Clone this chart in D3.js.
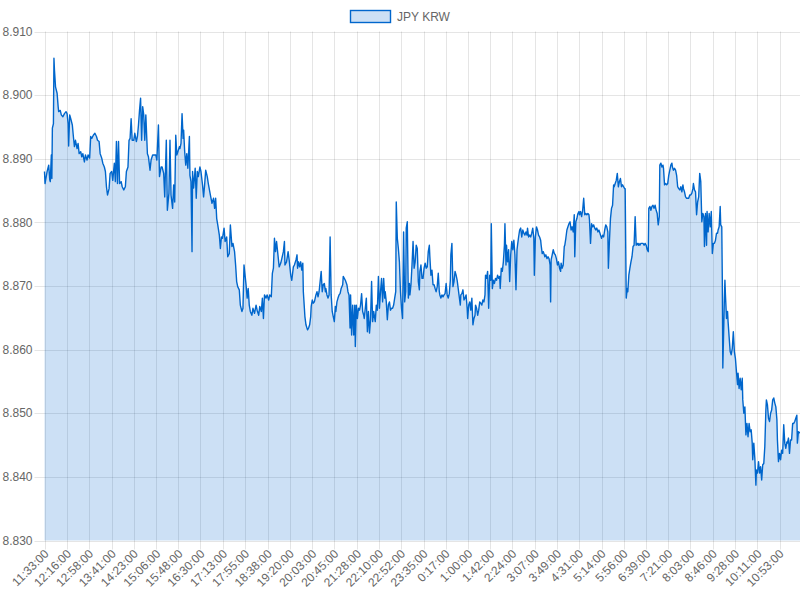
<!DOCTYPE html>
<html>
<head>
<meta charset="utf-8">
<script src="https://cdn.jsdelivr.net/npm/d3@7"></script>
<style>
    body { margin: 0; background: #fff; }
    text { font-family: "Liberation Sans", Arial, Helvetica, sans-serif; }
</style>
</head>
<body>
<svg id="chart" width="800" height="600"></svg>
<script>
//图例名称
const seriesName = "JPY KRW";

//横轴刻度标签
const tickLabels = ["11:33:00", "12:16:00", "12:58:00", "13:41:00", "14:23:00", "15:06:00", "15:48:00",
    "16:30:00", "17:13:00", "17:55:00", "18:38:00", "19:20:00", "20:03:00", "20:45:00", "21:28:00",
    "22:10:00", "22:52:00", "23:35:00", "0:17:00", "1:00:00", "1:42:00", "2:24:00", "3:07:00",
    "3:49:00", "4:31:00", "5:14:00", "5:56:00", "6:39:00", "7:21:00", "8:03:00", "8:46:00",
    "9:28:00", "10:11:00", "10:53:00"];

//第一个数据点的时间，数据按分钟数偏移记录 [分钟, 汇率]
const startTime = "11:33:00";
const totalMinutes = 1440;

const ratesAfternoon = [[0,8.8880],[1,8.8861],[5,8.8880],[8,8.8890],[10,8.8867],[11,8.8864],[13,8.8906],[14,8.8869],[15,8.8948],[17,8.8955],[18,8.9058],[19,8.9039],[21,8.9013],[24,8.9003],[26,8.8982],[27,8.8974],[30,8.8976],[32,8.8969],[35,8.8966],[38,8.8971],[41,8.8974],[43,8.8971],[45,8.8955],[46,8.8920],[48,8.8969],[50,8.8963],[53,8.8953],[55,8.8935],[57,8.8919],[59,8.8929],[62,8.8916],[64,8.8924],[66,8.8908],[69,8.8911],[71,8.8903],[73,8.8908],[76,8.8895],[78,8.8906],[81,8.8898],[83,8.8906],[86,8.8901],[88,8.8935],[90,8.8932],[93,8.8937],[96,8.8940],[99,8.8935],[101,8.8929],[104,8.8927],[106,8.8908],[109,8.8901],[111,8.8893],[114,8.8887],[116,8.8880],[118,8.8856],[120,8.8843],[123,8.8853],[125,8.8877],[128,8.8880],[130,8.8866],[133,8.8893],[135,8.8864],[137,8.8927],[139,8.8861],[141,8.8927],[143,8.8861],[146,8.8864],[148,8.8856],[151,8.8851],[154,8.8856],[156,8.8880],[159,8.8887],[161,8.8929],[163,8.8932],[165,8.8963],[167,8.8929],[170,8.8929],[172,8.8940],[175,8.8927],[177,8.8935],[179,8.8953],[181,8.8976],[183,8.8995],[185,8.8929],[187,8.8982],[189,8.8969],[191,8.8929],[193,8.8969],[196,8.8908],[198,8.8903],[201,8.8882],[203,8.8898],[206,8.8906],[208,8.8906],[212,8.8906],[214,8.8898],[217,8.8953],[219,8.8872],[222,8.8887],[224,8.8887],[227,8.8877],[229,8.8840],[232,8.8929],[234,8.8819],[237,8.8846],[239,8.8929],
    [241,8.8843],[244,8.8822],[246,8.8859],[248,8.8832],[250,8.8937],[252,8.8906],[254,8.8911],[257,8.8919],[258,8.8916],[260,8.8924],[262,8.8971],[264,8.8932],[265,8.8945],[267,8.8911],[269,8.8890],[271,8.8908],[273,8.8885],[274,8.8901],[276,8.8935],[277,8.8874],[279,8.8864],[281,8.8754],[282,8.8880],[284,8.8854],[287,8.8885],[289,8.8838],[291,8.8880],[293,8.8872],[296,8.8887],[298,8.8880],[301,8.8859],[303,8.8840],[305,8.8859],[307,8.8882],[310,8.8872],[312,8.8861],[316,8.8843],[319,8.8830],[322,8.8838],[324,8.8822],[326,8.8838],[328,8.8806],[330,8.8796],[333,8.8780],[335,8.8759],[337,8.8777],[339,8.8775],[342,8.8791],[344,8.8770],[347,8.8777],[349,8.8746],[352,8.8751],[354,8.8796],[357,8.8762],[359,8.8767],[362,8.8754],[364,8.8733],[366,8.8707],[368,8.8699],[371,8.8694],[373,8.8670],[376,8.8660],[378,8.8665],[380,8.8733],[382,8.8717],[384,8.8701],[386,8.8681],[388,8.8696],[390,8.8670],[392,8.8660],[395,8.8654],[397,8.8665],[400,8.8657],[403,8.8670],[405,8.8662],[408,8.8654],[410,8.8668],[413,8.8660],[415,8.8681],[417,8.8649],[419,8.8686],[422,8.8681],[424,8.8686],[427,8.8678],[429,8.8686],[432,8.8683],[434,8.8720],[436,8.8728],[438,8.8775],[440,8.8754],[442,8.8770],[444,8.8754],[447,8.8730],[450,8.8736],[452,8.8743],[455,8.8754],[457,8.8770],[458,8.8733],[461,8.8738],[464,8.8754],[466,8.8741],[469,8.8717],[471,8.8709],[474,8.8730],[476,8.8733]];

const ratesEvening = [[479,8.8741],[481,8.8749],[482,8.8728],[484,8.8738],[486,8.8730],[488,8.8738],[490,8.8725],[492,8.8736],[493,8.8691],[495,8.8665],[496,8.8652],[498,8.8639],[501,8.8631],[503,8.8634],[505,8.8639],[507,8.8652],[508,8.8668],[510,8.8678],[512,8.8673],[514,8.8675],[517,8.8686],[519,8.8691],[521,8.8683],[523,8.8691],[525,8.8707],[527,8.8723],[529,8.8691],[531,8.8702],[533,8.8704],[535,8.8691],[536,8.8696],[538,8.8686],[540,8.8681],[542,8.8686],[544,8.8777],[546,8.8686],[548,8.8660],[550,8.8652],[552,8.8644],[554,8.8668],[555,8.8660],[557,8.8675],[559,8.8681],[561,8.8686],[563,8.8688],[565,8.8696],[568,8.8702],[569,8.8715],[571,8.8712],[573,8.8709],[576,8.8702],[578,8.8691],[580,8.8686],[582,8.8634],[583,8.8686],[585,8.8623],[587,8.8670],[589,8.8623],[591,8.8670],[592,8.8605],[594,8.8670],[596,8.8649],[598,8.8665],[600,8.8662],[602,8.8670],[604,8.8688],[606,8.8660],[608,8.8654],[609,8.8649],[611,8.8665],[613,8.8681],[615,8.8628],[617,8.8660],[619,8.8626],[621,8.8647],[623,8.8707],[625,8.8644],[627,8.8660],[629,8.8649],[630,8.8644],[632,8.8670],[634,8.8662],[636,8.8715],[638,8.8665],[640,8.8691],[642,8.8712],[644,8.8675],[646,8.8712],[648,8.8681],[649,8.8691],[651,8.8675],[653,8.8647],[655,8.8670],[657,8.8675],[659,8.8662],[661,8.8665],[663,8.8665],[665,8.8670],[667,8.8681],[669,8.8691],[670,8.8832],[672,8.8775],[674,8.8759],[676,8.8738],[678,8.8691],[680,8.8665],[682,8.8649],[684,8.8785],[686,8.8675],[688,8.8691],[689,8.8791],[691,8.8801],[693,8.8681],[695,8.8704],[696,8.8686],[698,8.8702],[700,8.8733],[702,8.8770],[704,8.8728],[706,8.8738],[708,8.8764],[710,8.8759],[712,8.8707],[714,8.8694]];

const ratesNight = [[715,8.8723],[717,8.8733],[719,8.8712],[721,8.8712],[723,8.8728],[725,8.8736],[727,8.8728],[729,8.8730],[731,8.8754],[733,8.8764],[734,8.8746],[736,8.8717],[738,8.8725],[740,8.8702],[742,8.8702],[744,8.8696],[746,8.8691],[748,8.8699],[750,8.8720],[752,8.8691],[753,8.8686],[755,8.8681],[757,8.8686],[759,8.8683],[761,8.8686],[763,8.8688],[765,8.8704],[767,8.8686],[769,8.8681],[771,8.8688],[773,8.8709],[774,8.8749],[776,8.8767],[778,8.8699],[780,8.8707],[782,8.8723],[784,8.8717],[786,8.8709],[788,8.8696],[790,8.8683],[792,8.8670],[793,8.8686],[795,8.8688],[797,8.8694],[799,8.8678],[801,8.8681],[803,8.8686],[805,8.8665],[806,8.8649],[808,8.8670],[810,8.8675],[812,8.8662],[814,8.8681],[816,8.8639],[818,8.8649],[820,8.8654],[821,8.8670],[823,8.8665],[825,8.8654],[827,8.8662],[829,8.8675],[831,8.8673],[833,8.8670],[835,8.8678],[837,8.8675],[839,8.8686],[840,8.8717],[842,8.8712],[844,8.8723],[846,8.8665],[848,8.8717],[850,8.8709],[851,8.8798],[853,8.8696],[855,8.8709],[857,8.8704],[859,8.8712],[861,8.8709],[863,8.8717],[865,8.8712],[867,8.8715],[868,8.8696],[870,8.8728],[872,8.8723],[874,8.8738],[876,8.8764],[877,8.8798],[879,8.8733],[880,8.8764],[882,8.8738],[884,8.8757],[886,8.8707],[888,8.8749],[890,8.8770],[892,8.8757],[894,8.8772],[896,8.8749],[898,8.8694],[900,8.8757],[901,8.8764],[903,8.8777],[905,8.8788],[907,8.8791],[909,8.8777],[911,8.8788],[913,8.8783],[915,8.8780],[917,8.8785],[919,8.8780],[920,8.8791],[922,8.8777],[924,8.8780],[926,8.8777],[928,8.8783],[930,8.8791],[932,8.8775],[933,8.8717],[935,8.8777],[937,8.8793],[939,8.8788],[941,8.8780],[943,8.8777],[945,8.8772],[946,8.8764],[948,8.8751],[950,8.8754],[952,8.8749]];

const ratesEarly = [[953,8.8746],[955,8.8749],[957,8.8743],[959,8.8746],[961,8.8743],[963,8.8733],[964,8.8675],[965,8.8741],[967,8.8749],[969,8.8757],[971,8.8751],[973,8.8749],[975,8.8743],[977,8.8733],[979,8.8738],[981,8.8728],[983,8.8723],[984,8.8736],[986,8.8728],[988,8.8733],[990,8.8762],[991,8.8764],[993,8.8775],[995,8.8788],[997,8.8793],[999,8.8798],[1001,8.8801],[1003,8.8788],[1005,8.8793],[1007,8.8785],[1009,8.8812],[1010,8.8746],[1012,8.8801],[1014,8.8806],[1016,8.8814],[1018,8.8817],[1019,8.8812],[1021,8.8817],[1023,8.8809],[1025,8.8819],[1027,8.8838],[1029,8.8812],[1031,8.8814],[1033,8.8812],[1035,8.8814],[1037,8.8812],[1038,8.8804],[1040,8.8767],[1042,8.8798],[1044,8.8793],[1046,8.8796],[1048,8.8791],[1050,8.8788],[1052,8.8791],[1054,8.8785],[1056,8.8788],[1058,8.8783],[1059,8.8780],[1061,8.8775],[1063,8.8780],[1065,8.8777],[1067,8.8788],[1069,8.8796],[1071,8.8793],[1073,8.8785],[1074,8.8728],[1076,8.8770],[1078,8.8806],[1080,8.8822],[1082,8.8827],[1084,8.8859],[1085,8.8856],[1087,8.8861],[1089,8.8866],[1091,8.8877],[1093,8.8856],[1095,8.8864],[1097,8.8869],[1099,8.8856],[1101,8.8859],[1103,8.8856],[1105,8.8853],[1106,8.8853],[1108,8.8681],[1110,8.8696],[1111,8.8691],[1113,8.8717],[1115,8.8728],[1117,8.8738],[1119,8.8746],[1121,8.8762],[1123,8.8764],[1125,8.8809],[1127,8.8764],[1129,8.8767],[1131,8.8764],[1132,8.8767],[1134,8.8764],[1136,8.8767],[1138,8.8767],[1140,8.8767],[1142,8.8764],[1144,8.8767],[1146,8.8764],[1148,8.8757],[1150,8.8754],[1151,8.8822],[1153,8.8825],[1155,8.8819],[1157,8.8825],[1159,8.8827],[1161,8.8822],[1163,8.8827],[1165,8.8819],[1167,8.8814],[1168,8.8804],[1169,8.8796],[1171,8.8809],[1172,8.8890],[1174,8.8893],[1176,8.8887],[1178,8.8890],[1179,8.8885],[1181,8.8859],[1183,8.8861],[1185,8.8859],[1187,8.8861],[1189,8.8874]];

const ratesMorning = [[1193,8.8890],[1195,8.8893],[1196,8.8887],[1198,8.8882],[1200,8.8885],[1202,8.8882],[1204,8.8874],[1206,8.8856],[1208,8.8853],[1210,8.8851],[1212,8.8856],[1214,8.8848],[1216,8.8859],[1217,8.8853],[1219,8.8848],[1221,8.8840],[1223,8.8838],[1225,8.8838],[1227,8.8838],[1229,8.8843],[1231,8.8843],[1233,8.8846],[1235,8.8853],[1236,8.8861],[1238,8.8851],[1240,8.8848],[1242,8.8812],[1244,8.8832],[1246,8.8840],[1248,8.8877],[1250,8.8864],[1252,8.8801],[1254,8.8814],[1256,8.8809],[1257,8.8762],[1259,8.8814],[1261,8.8764],[1262,8.8817],[1264,8.8785],[1266,8.8814],[1268,8.8793],[1270,8.8817],[1272,8.8751],[1274,8.8767],[1276,8.8767],[1278,8.8772],[1280,8.8783],[1282,8.8783],[1283,8.8788],[1285,8.8793],[1287,8.8825],[1288,8.8796],[1290,8.8793],[1291,8.8712],[1292,8.8571],[1294,8.8644],[1295,8.8681],[1296,8.8709],[1297,8.8686],[1299,8.8649],[1301,8.8660],[1302,8.8644],[1304,8.8620],[1306,8.8597],[1308,8.8592],[1310,8.8602],[1312,8.8628],[1314,8.8597],[1316,8.8586],[1318,8.8565],[1320,8.8545],[1321,8.8563],[1323,8.8539],
    [1325,8.8555],[1327,8.8537],[1329,8.8555],[1330,8.8521],[1332,8.8500],[1334,8.8510],[1336,8.8466],[1338,8.8484],[1340,8.8463],[1342,8.8484],[1344,8.8471],[1346,8.8474],[1348,8.8453],[1349,8.8427],[1351,8.8453],[1353,8.8429],[1355,8.8387],[1356,8.8411],[1358,8.8406],[1360,8.8424],[1362,8.8406],[1364,8.8416],[1366,8.8395],[1368,8.8419],[1370,8.8421],[1372,8.8448],[1374,8.8505],[1375,8.8521],[1377,8.8513],[1379,8.8492],[1381,8.8487],[1383,8.8500],[1385,8.8505],[1387,8.8521],[1389,8.8524],[1391,8.8516],[1393,8.8510],[1395,8.8490],[1396,8.8458],[1398,8.8424],[1400,8.8437],[1402,8.8427],[1404,8.8442],[1406,8.8437],[1408,8.8482],[1410,8.8453],[1412,8.8445],[1414,8.8455],[1415,8.8453],[1417,8.8461],[1419,8.8437],[1421,8.8458],[1423,8.8458],[1425,8.8484],[1427,8.8484],[1429,8.8487],[1431,8.8492],[1433,8.8497],[1434,8.8453],[1436,8.8471],[1439,8.8469]];

//纵轴范围
const yMin = 8.83, yMax = 8.91;

const quotes = [].concat(ratesAfternoon, ratesEvening, ratesNight, ratesEarly, ratesMorning);

const svg = d3.select("#chart");
const plotLeft = 44.5, plotRight = 800, plotTop = 31.5, plotBottom = 540.5;
const gridColor = "rgba(0,0,0,0.1)";
const fontColor = "#666";

//时间标签转为相对起点的分钟数
function toOffset(t) {
    let p = t.split(":").map(Number);
    let s = startTime.split(":").map(Number);
    return (p[0] * 60 + p[1] - s[0] * 60 - s[1] + totalMinutes) % totalMinutes;
}

const x = d3.scaleLinear().domain([0, totalMinutes - 1]).range([plotLeft, plotRight]);
const y = d3.scaleLinear().domain([yMin, yMax]).range([plotBottom, plotTop]);

//网格
const grid = svg.append("g").attr("stroke", gridColor).attr("stroke-width", 1);
grid.selectAll("line.h")
    .data(y.ticks(8))
    .join("line")
    .attr("class", "h")
    .attr("x1", plotLeft - 10)
    .attr("x2", plotRight)
    .attr("y1", d => Math.round(y(d)) + 0.5)
    .attr("y2", d => Math.round(y(d)) + 0.5);

grid.selectAll("line.v")
    .data(tickLabels)
    .join("line")
    .attr("class", "v")
    .attr("x1", d => Math.round(x(toOffset(d))) + 0.5)
    .attr("x2", d => Math.round(x(toOffset(d))) + 0.5)
    .attr("y1", plotTop)
    .attr("y2", plotBottom + 9);

//纵轴标签
svg.append("g")
    .selectAll("text")
    .data(y.ticks(8))
    .join("text")
    .text(d => d3.format(".3f")(d))
    .attr("x", plotLeft - 12)
    .attr("y", d => y(d))
    .attr("dy", "0.35em")
    .attr("text-anchor", "end")
    .attr("font-size", 12)
    .attr("fill", fontColor);

//横轴标签
svg.append("g")
    .selectAll("text")
    .data(tickLabels)
    .join("text")
    .text(d => d)
    .attr("text-anchor", "end")
    .attr("dy", "0.35em")
    .attr("font-size", 12)
    .attr("fill", fontColor)
    .attr("transform", d => `translate(${x(toOffset(d)) + 2},${plotBottom + 11}) rotate(-45)`);

//面积与折线
const area = d3.area()
    .x(d => x(d[0]))
    .y0(y(yMin))
    .y1(d => y(d[1]));

const line = d3.line()
    .x(d => x(d[0]))
    .y(d => y(d[1]));

svg.append("path")
    .datum(quotes)
    .attr("d", area)
    .attr("fill", "rgba(0,102,204,0.2)");

svg.append("path")
    .datum(quotes)
    .attr("d", line)
    .attr("fill", "none")
    .attr("stroke", "#0066cc")
    .attr("stroke-width", 1.4)
    .attr("stroke-linejoin", "round");

//图例
const legend = svg.append("g");
legend.append("rect")
    .attr("x", 350.5)
    .attr("y", 10.5)
    .attr("width", 40)
    .attr("height", 12)
    .attr("fill", "rgba(0,102,204,0.2)")
    .attr("stroke", "#0066cc")
    .attr("stroke-width", 1.4);

legend.append("text")
    .text(seriesName)
    .attr("x", 397)
    .attr("y", 16.5)
    .attr("dy", "0.35em")
    .attr("font-size", 12)
    .attr("fill", fontColor);
</script>
</body>
</html>
